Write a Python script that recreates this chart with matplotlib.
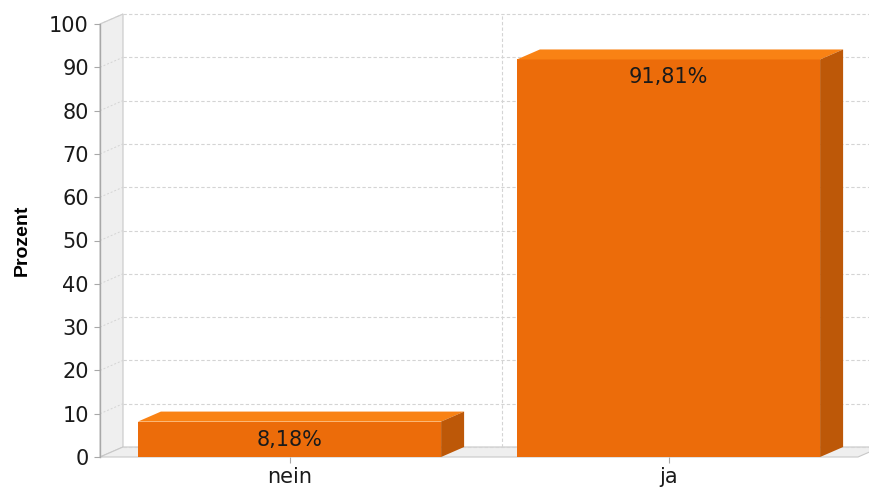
import matplotlib
matplotlib.use("Agg")
import matplotlib.pyplot as plt
from matplotlib.patches import Polygon, Rectangle

categories = ["nein", "ja"]
values = [8.18, 91.81]
value_labels = ["8,18%", "91,81%"]
y_ticks = [0, 10, 20, 30, 40, 50, 60, 70, 80, 90, 100]
y_label = "Prozent"

W, H, DPI = 869, 491, 100
fig = plt.figure(figsize=(W / DPI, H / DPI), dpi=DPI)
fig.patch.set_facecolor("white")
ax = fig.add_axes([100 / W, 34 / H, 758 / W, 433 / H])
ax.set_xlim(-0.5, len(categories) - 0.5)
ax.set_ylim(0, 100)
for s in ax.spines.values():
    s.set_visible(False)

# depth offset (pixels) converted to data units
DX_PX, DY_PX = 23, 10
bb = ax.get_position()
ax_w_px = bb.width * W
ax_h_px = bb.height * H
x0, x1 = ax.get_xlim()
y0, y1 = ax.get_ylim()
dx = DX_PX * (x1 - x0) / ax_w_px
dy = DY_PX * (y1 - y0) / ax_h_px

wall_face = "#efefef"
edge_col = "#c8c8c8"
grid_col = "#d4d4d4"

# left wall
ax.add_patch(Polygon([(x0, y0), (x0, y1), (x0 + dx, y1 + dy), (x0 + dx, y0 + dy)],
                     closed=True, facecolor=wall_face, edgecolor=edge_col, lw=0.8,
                     clip_on=False, zorder=1))
# floor
ax.add_patch(Polygon([(x0, y0), (x1, y0), (x1 + dx, y0 + dy), (x0 + dx, y0 + dy)],
                     closed=True, facecolor=wall_face, edgecolor=edge_col, lw=0.8,
                     clip_on=False, zorder=1))

# gridlines on the back plane + diagonal lines on the wall
for t in y_ticks:
    ax.plot([x0 + dx, x1 + dx], [t + dy, t + dy], color=grid_col, lw=0.8,
            ls=(0, (3, 2)), clip_on=False, zorder=2)
    if t > 0:
        ax.plot([x0, x0 + dx], [t, t + dy], color=grid_col, lw=0.7,
                ls=(0, (2, 2)), clip_on=False, zorder=2)
# vertical gridline between categories
for i in range(len(categories) - 1):
    xv = i + 0.5 + dx
    ax.plot([xv, xv], [y0 + dy, y1 + dy], color=grid_col, lw=0.8,
            ls=(0, (3, 2)), clip_on=False, zorder=2)

# y axis line
ax.plot([x0, x0], [y0, y1], color="#a8a8a8", lw=1.0, clip_on=False, zorder=3)

front = "#ec6c0a"
top = "#f98214"
side = "#bd5808"
bw = 0.8
for i, v in enumerate(values):
    l, r = i - bw / 2, i + bw / 2
    ax.add_patch(Rectangle((l, 0), bw, v, facecolor=front, edgecolor="none",
                           clip_on=False, zorder=5))
    ax.add_patch(Polygon([(l, v), (r, v), (r + dx, v + dy), (l + dx, v + dy)],
                         closed=True, facecolor=top, edgecolor="none",
                         clip_on=False, zorder=5))
    ax.add_patch(Polygon([(r, 0), (r, v), (r + dx, v + dy), (r + dx, dy)],
                         closed=True, facecolor=side, edgecolor="none",
                         clip_on=False, zorder=5))
    ax.annotate(value_labels[i], xy=(i, v), xytext=(0, -18 * 72 / DPI),
                textcoords="offset points", ha="center", va="center",
                fontsize=15, color="#1a1a1a", zorder=6,
                family=["DejaVu Sans"])

ax.set_yticks(y_ticks)
ax.set_yticklabels([str(t) for t in y_ticks], fontsize=15, color="#1a1a1a")
ax.set_xticks(range(len(categories)))
ax.set_xticklabels(categories, fontsize=15, color="#1a1a1a")
ax.tick_params(axis="y", length=4, color="#a8a8a8", pad=4)
ax.tick_params(axis="x", length=4, color="#a8a8a8", pad=3)
ax.set_ylabel(y_label, fontsize=14, fontweight="bold",
              family=["Liberation Sans", "DejaVu Sans"])
ax.yaxis.set_label_coords(-78 / 758, 0.5)
ax.yaxis.label.set_verticalalignment("center")
ax.set_facecolor("none")

fig.savefig("out.png", dpi=DPI, facecolor="white")
